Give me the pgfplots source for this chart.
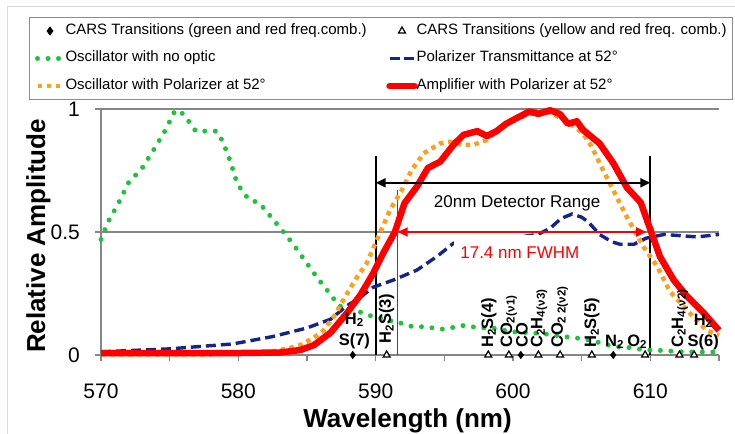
\documentclass[border=0pt]{standalone}
\usepackage{fontspec}
\setmainfont{Liberation Sans}
\setsansfont{Liberation Sans}
\usepackage{pgfplots}
\usepackage{pgfplotstable}
\pgfplotsset{compat=1.18}
\usetikzlibrary{arrows.meta}

\definecolor{cgreen}{HTML}{1DC43A}
\definecolor{cnavy}{HTML}{14248C}
\definecolor{corange}{HTML}{FF9F1C}
\definecolor{cred}{HTML}{FF0000}
\definecolor{axisgray}{HTML}{868686}
\definecolor{leggray}{HTML}{8C8C8C}

\pgfplotsset{
  my line legend/.style={legend image code/.code={%
    \path[draw=none,fill=none] (0pt,-1pt) rectangle (25pt,1pt);
    \draw[##1, overlay] (0pt,0pt) -- (25pt,0pt);}},
  my mark legend/.style={legend image code/.code={%
    \path[draw=none,fill=none] (0pt,-1pt) rectangle (25pt,1pt);
    \draw[##1, overlay] plot coordinates {(12.5pt,0pt)};}},
}
\tikzset{
  mol/.style={font=\fontsize{16.5}{21}\selectfont\bfseries, inner sep=0pt},
  molr/.style={mol, rotate=90, anchor=west},
}

% oscillator, no optic
\pgfplotstableread{
x y
570.0 0.47
570.5 0.54
571.3 0.62
572.0 0.70
573.0 0.76
573.9 0.84
574.7 0.915
575.4 0.995
576.0 0.98
576.9 0.91
577.7 0.91
578.4 0.91
578.85 0.87
579.4 0.79
579.9 0.70
580.3 0.665
580.8 0.63
581.5 0.62
581.95 0.59
583.0 0.52
584.0 0.45
584.9 0.38
585.8 0.31
586.8 0.24
587.3 0.20
588.1 0.19
589.6 0.16
590.3 0.15
591.0 0.14
591.8 0.13
592.7 0.115
593.5 0.115
594.9 0.105
596.4 0.12
597.6 0.11
598.5 0.11
599.8 0.095
601.3 0.09
602.5 0.085
603.7 0.075
605.2 0.065
606.3 0.05
607.3 0.035
608.5 0.03
609.7 0.02
611.0 0.018
612.2 0.013
615.0 0.012
}\oscnone

% polarizer transmittance
\pgfplotstableread{
x y
570.0 0.013
575.0 0.025
579.6 0.045
582.5 0.075
585.0 0.11
586.7 0.145
587.9 0.20
588.9 0.235
589.8 0.275
591.3 0.305
593.0 0.345
594.45 0.40
595.66 0.454
596.5 0.47
598.0 0.48
600.5 0.48
601.8 0.49
602.7 0.515
603.5 0.555
604.3 0.573
605.0 0.56
605.5 0.54
606.3 0.49
607.2 0.46
607.8 0.45
608.8 0.45
609.7 0.475
611.0 0.49
613.4 0.48
615.0 0.49
}\poltrans

% oscillator with polarizer
\pgfplotstableread{
x y
570.0 0.003
578.0 0.003
582.0 0.01
583.5 0.025
584.5 0.04
585.5 0.07
586.2 0.10
587.0 0.16
587.65 0.224
588.5 0.305
589.35 0.373
590.3 0.495
591.05 0.59
591.9 0.67
592.6 0.75
593.5 0.82
594.7 0.86
595.4 0.867
596.3 0.855
597.1 0.854
598.1 0.874
599.0 0.92
600.0 0.955
601.0 0.975
601.7 0.99
602.3 0.99
602.9 0.98
603.6 0.96
604.2 0.94
605.1 0.90
605.7 0.85
606.3 0.78
607.3 0.67
608.3 0.56
609.5 0.44
610.5 0.36
611.4 0.26
612.7 0.18
614.1 0.10
615.0 0.08
}\oscpol

% amplifier with polarizer
\pgfplotstableread{
x y
570.0 0.008
580.0 0.008
583.0 0.01
584.5 0.02
585.5 0.04
586.7 0.09
587.9 0.17
588.9 0.245
589.8 0.33
590.56 0.415
591.4 0.50
592.1 0.617
593.0 0.684
593.8 0.76
594.7 0.786
595.66 0.854
596.4 0.895
597.4 0.91
598.1 0.89
598.8 0.91
599.5 0.94
600.5 0.97
601.2 0.99
601.85 0.98
602.7 0.995
603.4 0.98
604.0 0.94
604.65 0.95
605.1 0.915
606.3 0.86
607.3 0.78
608.3 0.68
609.3 0.62
610.0 0.51
610.7 0.40
611.7 0.305
612.65 0.24
613.9 0.17
615.0 0.10
}\amppol

\begin{document}
\begin{tikzpicture}
\useasboundingbox (0pt,0pt) rectangle (735pt,433pt);
\draw[black!15, line width=1pt] (7pt,-10pt) rectangle (750pt,426pt);
\begin{axis}[
  at={(101pt,78pt)}, anchor=south west,
  scale only axis, width=618pt, height=246pt,
  xmin=570, xmax=615, ymin=0, ymax=1,
  clip=false,
  axis x line*=bottom, axis y line*=left,
  axis line style={draw=axisgray, line width=1.5pt, -},
  xtick={570,575,...,615}, xticklabels={570,,580,,590,,600,,610,},
  ytick={0,0.5,1}, yticklabels={0,0.5,1},
  tick align=outside, major tick length=6pt,
  tick style={draw=axisgray, line width=1.5pt},
  ymajorgrids, grid style={draw=axisgray, line width=1.5pt},
  /pgf/number format/assume math mode=true,
  tick label style={font=\fontsize{21}{21}\selectfont},
  xticklabel style={anchor=north, inner sep=0pt, yshift=-23pt},
  yticklabel style={anchor=east, inner sep=0pt, xshift=-15pt},
  label style={font=\fontsize{26}{26}\selectfont\bfseries},
  xlabel={Wavelength (nm)}, ylabel={Relative Amplitude},
  xlabel style={at={(axis description cs:0.496,-0.2927)}, anchor=base},
  ylabel style={at={(axis description cs:-0.0906,0.484)}, anchor=base},
  legend columns=2, legend cell align=left,
  legend style={at={(axis description cs:-0.1165,1.374)}, anchor=north west,
    draw=leggray, line width=1pt, fill=white,
    inner xsep=8pt, inner ysep=6pt, row sep=12.5pt, column sep=0pt,
    font=\fontsize{15}{15}\selectfont,
    nodes={inner sep=0pt, text height=11pt, text depth=4pt}},
]
\addlegendimage{my mark legend, black, mark=diamond*, mark size=3.8pt}
\addlegendentry{\makebox[327pt][l]{\hspace{3pt}CARS Transitions (green and red freq.comb.)}}
\addlegendimage{my mark legend, black, mark=triangle, mark size=4pt, line width=1.2pt}
\addlegendentry{\makebox[310pt][l]{\hspace{2pt}CARS Transitions (yellow and red freq. comb.)}}
\addlegendimage{my line legend, cgreen, line width=5pt, line cap=round, dash pattern=on 0pt off 10.5pt}
\addlegendentry{\makebox[327pt][l]{\hspace{3pt}Oscillator with no optic}}
\addlegendimage{my line legend, cnavy, line width=3.5pt, dash pattern=on 10pt off 4pt}
\addlegendentry{\makebox[310pt][l]{\hspace{2pt}Polarizer Transmittance at 52°}}
\addlegendimage{my line legend, corange, line width=4.5pt, dash pattern=on 4.5pt off 4.5pt}
\addlegendentry{\makebox[327pt][l]{\hspace{3pt}Oscillator with Polarizer at 52°}}
\addlegendimage{my line legend, cred, line width=6.5pt, line cap=round}
\addlegendentry{\makebox[310pt][l]{\hspace{2pt}Amplifier with Polarizer at 52°}}

% detector range and FWHM markers
\draw[black, line width=1.8pt] (axis cs:590,0) -- (axis cs:590,0.81);
\draw[black, line width=1.8pt] (axis cs:610,0) -- (axis cs:610,0.81);
\draw[cred, line width=1.5pt] (axis cs:591.6,0) -- (axis cs:591.6,0.67);

\addplot[forget plot, cgreen, line width=5pt, line cap=round, dash pattern=on 0pt off 10.5pt] table {\oscnone};
\addplot[forget plot, cnavy, line width=3.4pt, dash pattern=on 10pt off 5pt] table {\poltrans};
\node[fill=white, inner sep=0pt, minimum width=128pt, minimum height=36pt] at (axis cs:600.4,0.415) {};
\addplot[forget plot, corange, line width=4.5pt, dash pattern=on 4.5pt off 4.5pt] table {\oscpol};
\addplot[forget plot, cred, line width=6.5pt, line join=round] table {\amppol};

\draw[black, line width=2.2pt, {Triangle[length=10pt,width=9pt]}-{Triangle[length=10pt,width=9pt]}]
  (axis cs:590,0.70) -- (axis cs:610,0.70);
\node[font=\fontsize{17}{17}\selectfont] at (axis cs:600.3,0.617) {20nm Detector Range};
\draw[cred, line width=1.8pt, {Triangle[length=10pt,width=9pt]}-{Triangle[length=10pt,width=9pt]}]
  (axis cs:591.6,0.5) -- (axis cs:609.7,0.5);
\node[cred, font=\fontsize{17}{17}\selectfont] at (axis cs:600.5,0.415) {17.4 nm FWHM};

% transition labels
\node[mol, align=center] at (axis cs:588.45,0.098) {H\textsubscript{2}\\S(7)};
\node[molr] at (axis cs:590.8,0.045) {H\textsubscript{2}S(3)};
\node[molr] at (axis cs:598.25,0.028) {H\textsubscript{2}S(4)};
\node[molr] at (axis cs:599.7,0.028) {CO\textsubscript{2}\textsubscript{(ν1)}};
\node[molr] at (axis cs:600.65,0.028) {CO};
\node[molr] at (axis cs:601.9,0.028) {C\textsubscript{2}H\textsubscript{4}\textsubscript{(ν3)}};
\node[molr] at (axis cs:603.4,0.028) {CO\textsubscript{2 2(ν2)}};
\node[molr] at (axis cs:605.75,0.028) {H\textsubscript{2}S(5)};
\node[mol] at (axis cs:607.4,0.054) {N\textsubscript{2}};
\node[mol] at (axis cs:609.05,0.054) {O\textsubscript{2}};
\node[molr] at (axis cs:612.15,0.028) {C\textsubscript{2}H\textsubscript{4}\textsubscript{(ν2)}};
\node[mol, align=center] at (axis cs:613.85,0.095) {H\textsubscript{2}\\S(6)};

% CARS transition markers
\addplot[forget plot, only marks, black, mark=diamond*, mark size=3.8pt]
  coordinates {(588.33,0) (600.57,0) (607.3,0)};
\addplot[forget plot, only marks, black, mark=triangle*, mark size=4pt,
  mark options={fill=white, line width=1.2pt}]
  coordinates {(590.8,0) (598.2,0) (599.7,0) (601.85,0) (603.43,0) (605.74,0) (609.62,0) (612.12,0) (613.19,0)};
\end{axis}
\end{tikzpicture}
\end{document}
